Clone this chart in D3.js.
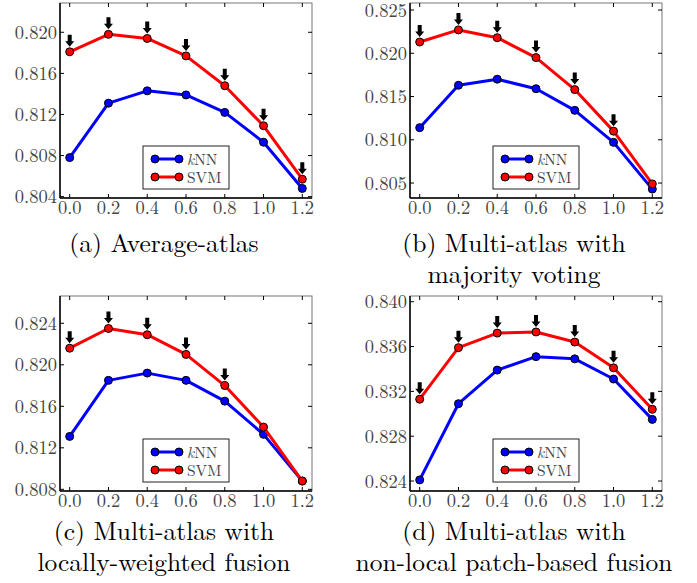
<!DOCTYPE html>
<html>
<head>
<meta charset="utf-8">
<script src="https://cdn.jsdelivr.net/npm/d3@7"></script>
<style>
  body { margin: 0; background: #fff; }
  svg { display: block; }
</style>
</head>
<body>
<div id="chart"></div>
<script>
// shared x values (the parameter)
const xs = [0.0, 0.2, 0.4, 0.6, 0.8, 1.0, 1.2];

// (a) average-atlas
const knnA = [0.8078, 0.8131, 0.8143, 0.8139, 0.8122, 0.8093, 0.8048];
const svmA = [0.8181, 0.8198, 0.8194, 0.8177, 0.8148, 0.8109, 0.8057];
const arrowA = [1, 1, 1, 1, 1, 1, 1];
const ticksA = [0.804, 0.808, 0.812, 0.816, 0.820];

// (b) majority voting
const knnB = [0.8114, 0.8163, 0.8170, 0.8159, 0.8134, 0.8097, 0.8043];
const svmB = [0.8213, 0.8227, 0.8218, 0.8195, 0.8158, 0.8110, 0.8049];
const arrowB = [1, 1, 1, 1, 1, 1, 0];
const ticksB = [0.805, 0.810, 0.815, 0.820, 0.825];

// (c) locally-weighted fusion
const knnC = [0.8131, 0.8185, 0.8192, 0.8185, 0.8165, 0.8133, 0.8088];
const svmC = [0.8216, 0.8235, 0.8229, 0.8210, 0.8180, 0.8140, 0.8088];
const arrowC = [1, 1, 1, 1, 1, 0, 0];
const ticksC = [0.808, 0.812, 0.816, 0.820, 0.824];

// (d) non-local patch-based fusion
const knnD = [0.8241, 0.8309, 0.8339, 0.8351, 0.8349, 0.8331, 0.8295];
const svmD = [0.8313, 0.8359, 0.8372, 0.8373, 0.8364, 0.8341, 0.8304];
const arrowD = [1, 1, 1, 1, 1, 1, 1];
const ticksD = [0.824, 0.828, 0.832, 0.836, 0.840];

const xTicks = [0.0, 0.2, 0.4, 0.6, 0.8, 1.0, 1.2];

const panels = [
  { knn: knnA, svm: svmA, arrows: arrowA, ticks: ticksA, ydom: [0.80387, 0.82285],
    left: 60, top: 3, caption: ["(a) Average-atlas"], capY: 252 },
  { knn: knnB, svm: svmB, arrows: arrowB, ticks: ticksB, ydom: [0.80327, 0.82581],
    left: 410, top: 3, caption: ["(b) Multi-atlas with", "majority voting"], capY: 252 },
  { knn: knnC, svm: svmC, arrows: arrowC, ticks: ticksC, ydom: [0.80784, 0.82663],
    left: 60, top: 296, caption: ["(c) Multi-atlas with", "locally-weighted fusion"], capY: 540 },
  { knn: knnD, svm: svmD, arrows: arrowD, ticks: ticksD, ydom: [0.82311, 0.84051],
    left: 410, top: 296, caption: ["(d) Multi-atlas with", "non-local patch-based fusion"], capY: 540 }
];

const W = 697, H = 583;
const pw = 252, ph = 195;
const serif = '"Latin Modern Roman", "Liberation Serif", serif';

const svg = d3.select('#chart').append('svg')
  .attr('width', W)
  .attr('height', H);

const fmt = d3.format('.3f');
const fmtX = d3.format('.1f');

panels.forEach(function(p) {
  let g = svg.append('g').attr('transform', `translate(${p.left},${p.top})`);

  let x = d3.scaleLinear().domain([-0.05, 1.25]).range([0, pw]);
  let y = d3.scaleLinear().domain(p.ydom).range([ph, 0]);

  // frame: grey top/right, black left/bottom
  g.append('rect')
    .attr('width', pw).attr('height', ph)
    .attr('fill', 'none').attr('stroke', '#777').attr('stroke-width', 1);
  g.append('line').attr('x1', 0).attr('x2', 0).attr('y1', 0).attr('y2', ph)
    .attr('stroke', '#000').attr('stroke-width', 1.5);
  g.append('line').attr('x1', 0).attr('x2', pw).attr('y1', ph).attr('y2', ph)
    .attr('stroke', '#000').attr('stroke-width', 1.5);

  // inward ticks on all four sides
  let tl = 4;
  xTicks.forEach(function(t) {
    g.append('line').attr('x1', x(t)).attr('x2', x(t)).attr('y1', ph).attr('y2', ph - tl)
      .attr('stroke', '#000').attr('stroke-width', 1);
    g.append('line').attr('x1', x(t)).attr('x2', x(t)).attr('y1', 0).attr('y2', tl)
      .attr('stroke', '#000').attr('stroke-width', 1);
    g.append('text')
      .attr('x', x(t)).attr('y', ph + 16)
      .attr('text-anchor', 'middle')
      .style('font-family', serif)
      .attr('font-size', 18.5).attr('fill', '#444')
      .text(fmtX(t));
  });
  p.ticks.forEach(function(t) {
    g.append('line').attr('x1', 0).attr('x2', tl).attr('y1', y(t)).attr('y2', y(t))
      .attr('stroke', '#000').attr('stroke-width', 1);
    g.append('line').attr('x1', pw).attr('x2', pw - tl).attr('y1', y(t)).attr('y2', y(t))
      .attr('stroke', '#000').attr('stroke-width', 1);
    g.append('text')
      .attr('x', -3).attr('y', y(t) + 6.5)
      .attr('text-anchor', 'end')
      .style('font-family', serif)
      .attr('font-size', 18.5).attr('fill', '#444')
      .text(fmt(t));
  });

  let line = d3.line()
    .x(function(d, i) { return x(xs[i]); })
    .y(function(d) { return y(d); });

  let series = [
    { vals: p.knn, color: '#0000ff' },
    { vals: p.svm, color: '#ff0000' }
  ];

  series.forEach(function(s) {
    g.append('path')
      .attr('d', line(s.vals))
      .attr('fill', 'none')
      .attr('stroke', s.color)
      .attr('stroke-width', 3)
      .attr('stroke-linejoin', 'round');
    g.selectAll(null).data(s.vals).enter().append('circle')
      .attr('cx', function(d, i) { return x(xs[i]); })
      .attr('cy', function(d) { return y(d); })
      .attr('r', 4)
      .attr('fill', s.color)
      .attr('stroke', '#000')
      .attr('stroke-width', 1);
  });

  // down arrows over SVM points
  let arrowPath = 'M-2,-17 L2,-17 L2,-10.5 L4.5,-10.5 L0,-5 L-4.5,-10.5 L-2,-10.5 Z';
  p.svm.forEach(function(d, i) {
    if (!p.arrows[i]) return;
    g.append('path')
      .attr('d', arrowPath)
      .attr('transform', `translate(${x(xs[i])},${y(d)})`)
      .attr('fill', '#000');
  });

  // legend, lower centre
  let lg = g.append('g').attr('transform', `translate(83,${ph - 52})`);
  lg.append('rect')
    .attr('width', 86).attr('height', 43)
    .attr('fill', '#fff').attr('stroke', '#222').attr('stroke-width', 1);
  let labels = ['kNN', 'SVM'];
  series.forEach(function(s, k) {
    let yy = 13 + k * 18;
    lg.append('line').attr('x1', 12).attr('x2', 36).attr('y1', yy).attr('y2', yy)
      .attr('stroke', s.color).attr('stroke-width', 3);
    [12, 36].forEach(function(cx) {
      lg.append('circle').attr('cx', cx).attr('cy', yy).attr('r', 4)
        .attr('fill', s.color).attr('stroke', '#000').attr('stroke-width', 1);
    });
    let t = lg.append('text').attr('x', 44).attr('y', yy + 5.5)
      .style('font-family', serif)
      .attr('font-size', 15.5).attr('fill', '#444');
    if (labels[k] === 'kNN') {
      t.append('tspan').attr('font-style', 'italic').text('k');
      t.append('tspan').text('NN');
    } else {
      t.text(labels[k]);
    }
  });

  // caption under the panel
  p.caption.forEach(function(c, k) {
    svg.append('text')
      .attr('x', p.left + 104)
      .attr('y', p.capY + k * 30.5)
      .attr('text-anchor', 'middle')
      .style('font-family', serif)
      .attr('font-size', 25.5)
      .attr('fill', '#000')
      .text(c);
  });
});
</script>
</body>
</html>
